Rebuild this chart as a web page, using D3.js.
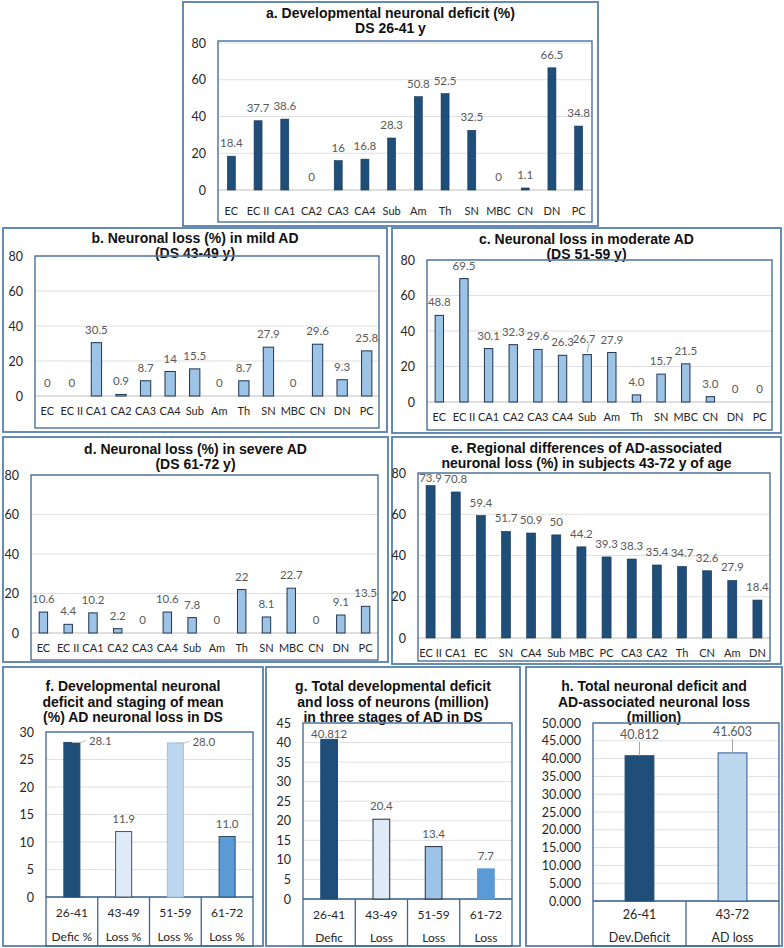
<!DOCTYPE html>
<html>
<head>
<meta charset="utf-8" />
<title>DS neuronal deficit and loss</title>
<script src="https://cdn.jsdelivr.net/npm/d3@7"></script>
<style>
  body { margin: 0; background: #fff; }
  svg text { font-family: Lato, "Liberation Sans", sans-serif; }
  .title { font-family: "Liberation Sans", Arial, sans-serif; font-weight: bold; font-size: 14px; fill: #111; }
</style>
</head>
<body>
<svg id="fig" width="784" height="948"></svg>
<script>
// ---- data ----
var regions = ['EC', 'EC II', 'CA1', 'CA2', 'CA3', 'CA4', 'Sub', 'Am', 'Th', 'SN', 'MBC', 'CN', 'DN', 'PC'];
var deficitA = [18.4, 37.7, 38.6, 0, 16, 16.8, 28.3, 50.8, 52.5, 32.5, 0, 1.1, 66.5, 34.8];
var mildB = [0, 0, 30.5, 0.9, 8.7, 14, 15.5, 0, 8.7, 27.9, 0, 29.6, 9.3, 25.8];
var moderateC = [48.8, 69.5, 30.1, 32.3, 29.6, 26.3, 26.7, 27.9, 4.0, 15.7, 21.5, 3.0, 0, 0];
var moderateCLabels = ['48.8', '69.5', '30.1', '32.3', '29.6', '26.3', '26.7', '27.9', '4.0', '15.7', '21.5', '3.0', '0', '0'];
var severeD = [10.6, 4.4, 10.2, 2.2, 0, 10.6, 7.8, 0, 22, 8.1, 22.7, 0, 9.1, 13.5];
var regionsE = ['EC II', 'CA1', 'EC', 'SN', 'CA4', 'Sub', 'MBC', 'PC', 'CA3', 'CA2', 'Th', 'CN', 'Am', 'DN'];
var totalLossE = [73.9, 70.8, 59.4, 51.7, 50.9, 50, 44.2, 39.3, 38.3, 35.4, 34.7, 32.6, 27.9, 18.4];
var ages = ['26-41', '43-49', '51-59', '61-72'];
var stageF = ['Defic %', 'Loss %', 'Loss %', 'Loss %'];
var meanF = [28.1, 11.9, 28.0, 11.0];
var stageG = ['Defic', 'Loss', 'Loss', 'Loss'];
var millionG = [40.812, 20.4, 13.4, 7.7];
var agesH = ['26-41', '43-72'];
var stageH = ['Dev.Deficit', 'AD loss'];
var millionH = [40.812, 41.603];
var ticks80 = [0, 20, 40, 60, 80];
var ticks30 = [0, 5, 10, 15, 20, 25, 30];
var ticks45 = [0, 5, 10, 15, 20, 25, 30, 35, 40, 45];
var ticks50 = [0, 5, 10, 15, 20, 25, 30, 35, 40, 45, 50];

var NAVY = '#1f4e79', LIGHT = '#9dc3e6', PALE = '#deebf7', SKY = '#bdd7ee', MID = '#5b9bd5';
var BOX = '#5680ad', FRAME = '#3b6692', OUTLINE = '#1f3550';

var svg = d3.select('#fig');

function panel(c) {
  var g = svg.append('g');
  var b = c.box, f = c.frame;
  var font = c.font || 'Lato, sans-serif';

  g.append('rect')
    .attr('x', b[0]).attr('y', b[1])
    .attr('width', b[2] - b[0]).attr('height', b[3] - b[1])
    .attr('fill', 'none').attr('stroke', BOX).attr('stroke-width', 1.8);

  c.title.forEach(function (t, i) {
    g.append('text').attr('class', 'title')
      .attr('x', (b[0] + b[2]) / 2).attr('y', c.titleY[i])
      .attr('dy', '0.35em').attr('text-anchor', 'middle').text(t);
  });

  var x = d3.scaleBand().domain(d3.range(c.cats.length)).range([f[0], f[2]]);
  var y = d3.scaleLinear().domain([0, c.max]).range([c.y0, c.yTop]);

  // gridlines
  g.append('g').selectAll('line').data(c.ticks).join('line')
    .attr('x1', f[0]).attr('x2', f[2])
    .attr('y1', function (d) { return y(d); }).attr('y2', function (d) { return y(d); })
    .attr('stroke', function (d) { return d === 0 ? '#bfbfbf' : '#e0e0e0'; })
    .attr('stroke-width', 1);

  // y axis
  var ya = g.append('g').attr('transform', 'translate(' + f[0] + ',0)')
    .call(d3.axisLeft(y).tickValues(c.ticks).tickFormat(c.tickFmt || d3.format('d')).tickSize(0).tickPadding(12));
  ya.select('.domain').remove();
  ya.selectAll('text').attr('font-family', font).attr('font-size', c.tickSize || 12.5).attr('fill', '#262626');

  // plot frame
  g.append('rect')
    .attr('x', f[0]).attr('y', f[1])
    .attr('width', f[2] - f[0]).attr('height', f[3] - f[1])
    .attr('fill', 'none').attr('stroke', FRAME).attr('stroke-width', 1.3);

  // x labels
  var xa = g.append('g').attr('transform', 'translate(0,' + c.y0 + ')')
    .call(d3.axisBottom(x).tickFormat(function (i) { return c.cats[i]; }).tickSize(0).tickPadding(c.xPad || 11));
  xa.select('.domain').remove();
  xa.selectAll('text').attr('font-family', font).attr('font-size', c.xSize || 11).attr('fill', '#262626');

  if (c.sub) {
    g.append('line').attr('x1', f[0]).attr('x2', f[2]).attr('y1', c.y0).attr('y2', c.y0)
      .attr('stroke', FRAME).attr('stroke-width', 1.3);
    g.append('g').selectAll('line').data(d3.range(1, c.cats.length)).join('line')
      .attr('x1', function (i) { return x(i); }).attr('x2', function (i) { return x(i); })
      .attr('y1', c.y0).attr('y2', f[3])
      .attr('stroke', FRAME).attr('stroke-width', 1.3);
    var sa = g.append('g').attr('transform', 'translate(0,' + c.y0 + ')')
      .call(d3.axisBottom(x).tickFormat(function (i) { return c.sub[i]; }).tickSize(0).tickPadding(c.subPad));
    sa.select('.domain').remove();
    sa.selectAll('text').attr('font-family', font).attr('font-size', c.xSize || 11).attr('fill', '#262626');
  }

  // bars
  var bw = x.bandwidth() * c.ratio;
  g.append('g').selectAll('rect').data(c.vals).join('rect')
    .attr('x', function (d, i) { return x(i) + (x.bandwidth() - bw) / 2; })
    .attr('y', function (d) { return y(d); })
    .attr('width', bw)
    .attr('height', function (d) { return c.y0 - y(d); })
    .attr('fill', function (d, i) { return Array.isArray(c.fill) ? c.fill[i] : c.fill; })
    .attr('stroke', function (d, i) { return Array.isArray(c.stroke) ? c.stroke[i] : c.stroke; })
    .attr('stroke-width', c.strokeW || 1);

  // data labels
  var pad = c.clampPad || 6;
  c.vals.forEach(function (v, i) {
    var cx = x(i) + x.bandwidth() / 2;
    var top = y(v);
    var txt = c.labels ? c.labels[i] : (c.fmt ? c.fmt(v) : String(v));
    var lead = c.leaders && c.leaders[i];
    var lx = cx, ly = Math.max(top - 13, f[1] + pad), anchor = 'middle';
    if (lead === 'right') {
      lx = cx + bw / 2 + 9; ly = top - 1; anchor = 'start';
      g.append('polyline')
        .attr('points', [[cx, top], [cx + bw / 2 + 1, top], [cx + bw / 2 + 6, top - 2]].join(' '))
        .attr('fill', 'none').attr('stroke', '#bfbfbf').attr('stroke-width', 1);
    } else if (lead === 'up') {
      ly = top - 21;
      g.append('line').attr('x1', cx).attr('x2', cx).attr('y1', ly + 7).attr('y2', top)
        .attr('stroke', '#a6a6a6').attr('stroke-width', 1);
    } else if (lead === 'upleft') {
      lx = cx - 3; ly = top - 16;
      g.append('line').attr('x1', cx + 2).attr('x2', cx).attr('y1', ly + 5).attr('y2', top - 2)
        .attr('stroke', '#a6a6a6').attr('stroke-width', 1);
    }
    g.append('text').attr('x', lx).attr('y', ly).attr('dy', '0.35em')
      .attr('text-anchor', anchor)
      .attr('font-family', c.labelFont || font).attr('font-size', c.labelSize || 11.5)
      .attr('fill', '#595959').text(txt);
  });
}

panel({
  box: [183, 2, 598, 226], frame: [218, 41, 592, 222], y0: 190, yTop: 43, max: 80, ticks: ticks80,
  title: ['a. Developmental neuronal deficit (%)', 'DS 26-41 y'], titleY: [13, 28], xPad: 17,
  cats: regions, vals: deficitA, ratio: 0.3, fill: NAVY, stroke: '#17375e', strokeW: 0.6
});
panel({
  box: [3, 228, 387, 432], frame: [35, 256, 379, 428], y0: 396, yTop: 256, max: 80, ticks: ticks80,
  title: ['b. Neuronal loss (%) in mild AD', '(DS 43-49 y)'], titleY: [238, 253],
  cats: regions, vals: mildB, ratio: 0.42, fill: LIGHT, stroke: OUTLINE
});
panel({
  box: [392, 228, 781, 433], frame: [427, 260, 772, 430], y0: 402, yTop: 260, max: 80, ticks: ticks80,
  title: ['c. Neuronal loss in moderate AD', '(DS 51-59 y)'], titleY: [239, 254],
  cats: regions, vals: moderateC, labels: moderateCLabels, ratio: 0.34, fill: LIGHT, stroke: OUTLINE,
  leaders: { 6: 'upleft' }
});
panel({
  box: [3, 437, 388, 662], frame: [31, 475, 378, 660], y0: 633, yTop: 475, max: 80, ticks: ticks80,
  title: ['d. Neuronal loss (%) in severe AD', '(DS 61-72 y)'], titleY: [449, 464],
  cats: regions, vals: severeD, ratio: 0.34, fill: LIGHT, stroke: OUTLINE
});
panel({
  box: [392, 437, 781, 664], frame: [418, 473, 770, 661], y0: 638, yTop: 473, max: 80, ticks: ticks80,
  title: ['e. Regional differences of AD-associated', 'neuronal loss (%) in subjects 43-72 y of age'], titleY: [448, 463],
  cats: regionsE, vals: totalLossE, ratio: 0.36, fill: NAVY, stroke: '#17375e', strokeW: 0.6, clampPad: 5
});
panel({
  box: [3, 667, 263, 946], frame: [46, 732, 253, 946], y0: 897, yTop: 732, max: 30, ticks: ticks30,
  title: ['f. Developmental  neuronal', 'deficit and staging of mean', '(%) AD neuronal loss in DS'], titleY: [686, 702, 717],
  cats: ages, sub: stageF, xPad: 11, subPad: 35, xSize: 12,
  vals: meanF, fmt: d3.format('.1f'), ratio: 0.31,
  fill: [NAVY, PALE, SKY, MID], stroke: [NAVY, '#44546a', '#9dc3e6', '#2f4f6f'],
  leaders: { 0: 'right', 2: 'right' }
});
panel({
  box: [266, 667, 520, 946], frame: [303, 723, 512, 946], y0: 899, yTop: 723, max: 45, ticks: ticks45,
  title: ['g. Total developmental deficit', 'and loss of neurons (million)', 'in three stages of AD in DS'], titleY: [686, 702, 717],
  cats: ages, sub: stageG, xPad: 11, subPad: 34, xSize: 12,
  vals: millionG, ratio: 0.32, clampPad: 11,
  fill: [NAVY, PALE, LIGHT, MID], stroke: [NAVY, '#1f2f40', '#1f2f40', MID]
});
panel({
  box: [526, 667, 782, 946], frame: [593, 723, 779, 946], y0: 901, yTop: 723, max: 50, ticks: ticks50,
  title: ['h. Total neuronal deficit and', 'AD-associated neuronal loss', '(million)'], titleY: [686, 702, 717],
  cats: agesH, sub: stageH, xPad: 9, subPad: 32, xSize: 12.5,
  font: '"Liberation Sans", Arial, sans-serif', tickSize: 12.5, tickFmt: d3.format('.3f'),
  vals: millionH, fmt: d3.format('.3f'), labelSize: 12.5, ratio: 0.31,
  fill: [NAVY, SKY], stroke: [NAVY, '#2f5597'],
  leaders: { 0: 'up', 1: 'up' }
});
</script>
</body>
</html>
